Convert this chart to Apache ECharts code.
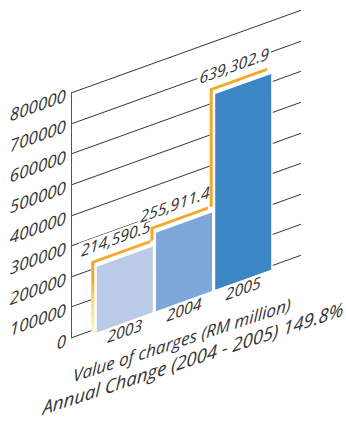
<!DOCTYPE html>
<html><head><meta charset="utf-8">
<script src="https://cdn.jsdelivr.net/npm/echarts@6/dist/echarts.min.js"></script>
<style>
html,body{margin:0;padding:0;background:#fff;overflow:hidden;}
#wrap{position:absolute;left:0;top:0;width:346px;height:421px;overflow:hidden;background:#fff;}
#chart{position:absolute;left:0;top:0;width:346px;height:560px;transform:skewY(-19.8deg);transform-origin:0 0;}
</style></head><body>
<div id="wrap"><div id="chart"></div></div>
<script>
// ---- data ----
const categories = ['2003', '2004', '2005'];
const values = [214590.5, 255911.4, 639302.9];
const valueLabels = ['214,590.5', '255,911.4', '639,302.9'];
const yMin = 0, yMax = 800000, yInterval = 100000;
const axisTitle = 'Value of charges (RM million)';
const changeTitle = 'Annual Change (2004 - 2005) 149.8%';
const barColors = ['#BACBE7', '#7EA6D9', '#3C86C6'];

// ---- style ----
const FONT = '"Open Sans", "Noto Sans", sans-serif';
const TEXT = '#333333';
const ORANGE = '#F6A82A';
const BAR_W = 56;
const OFFX = 4, OFFY = 6;

const chart = echarts.init(document.getElementById('chart'), null, {renderer: 'svg'});

function geom(params, api) {
  const i = params.dataIndex;
  const top = api.coord([i, api.value(1)]);
  const base = api.coord([i, 0]);
  const band = api.size([1, 0])[0];
  return {i, cx: top[0], top: top[1], base: base[1], left: top[0] - BAR_W / 2, right: top[0] + BAR_W / 2, gap: (band - BAR_W) / 2};
}

const option = {
  animation: false,
  backgroundColor: '#fff',
  grid: [
    {left: 71, top: 118.3, width: 230, height: 245},
    {left: 95.2, top: 122.3, width: 177.6, height: 245}
  ],
  xAxis: [
    {gridIndex: 0, type: 'category', data: categories, show: false},
    {gridIndex: 1, type: 'category', data: categories,
     axisLine: {show: false}, axisTick: {show: false},
     axisLabel: {margin: 0, fontFamily: FONT, fontStyle: 'italic', fontSize: 16, color: TEXT}}
  ],
  yAxis: [
    {gridIndex: 0, type: 'value', min: yMin, max: yMax, interval: yInterval,
     axisLine: {show: true, lineStyle: {color: '#555', width: 1}},
     axisTick: {show: false},
     splitLine: {show: true, lineStyle: {color: '#333', width: 1}},
     axisLabel: {margin: 5, fontFamily: FONT, fontStyle: 'italic', fontSize: 17, color: TEXT,
                 formatter: v => String(v)}},
    {gridIndex: 1, type: 'value', min: yMin, max: yMax, interval: yInterval, show: false}
  ],
  series: [
    {
      type: 'custom', xAxisIndex: 1, yAxisIndex: 1, z: 1,
      data: values.map((v, i) => [i, v]),
      renderItem: function (params, api) {
        const g = geom(params, api);
        const x0 = g.left - OFFX - 1.5;
        const x1 = g.right + g.gap;
        return {type: 'rect', shape: {x: x0, y: g.top - OFFY, width: x1 - x0, height: g.base - (g.top - OFFY) + 2},
                style: {fill: '#fff'}};
      }
    },
    {
      type: 'bar', xAxisIndex: 1, yAxisIndex: 1, z: 2,
      barWidth: BAR_W,
      data: values.map((v, i) => ({value: v, itemStyle: {color: barColors[i]}})),
      label: {
        show: true, position: 'top', distance: 14, offset: [-9, 0],
        formatter: p => valueLabels[p.dataIndex],
        fontFamily: FONT, fontStyle: 'italic', fontSize: 16, color: TEXT,
        backgroundColor: '#fff', padding: [0, 2, 0, 2]
      }
    },
    {
      type: 'custom', xAxisIndex: 1, yAxisIndex: 1, z: 3,
      data: values.map((v, i) => [i, v]),
      renderItem: function (params, api) {
        const g = geom(params, api);
        const xl = g.left - OFFX, xr = g.right - OFFX, y = g.top - OFFY;
        const children = [];
        if (g.i === 0) {
          const yb = g.base - 2;
          children.push({type: 'line', shape: {x1: xl, y1: yb, x2: xl, y2: y},
            style: {lineWidth: 3, stroke: {type: 'linear', x: 0, y: yb, x2: 0, y2: y, global: true,
              colorStops: [{offset: 0, color: '#FFF6C8'}, {offset: 0.45, color: '#FCD77A'}, {offset: 0.75, color: ORANGE}, {offset: 1, color: ORANGE}]}}});
          children.push({type: 'polyline', shape: {points: [[xl, y + 1.5], [xl, y], [xr, y]]},
            style: {stroke: ORANGE, lineWidth: 3, fill: null, lineJoin: 'miter', lineCap: 'square'}});
        } else {
          const py = api.coord([g.i - 1, values[g.i - 1]])[1] - OFFY;
          children.push({type: 'polyline', shape: {points: [[xl, py], [xl, y], [xr, y]]},
            style: {stroke: ORANGE, lineWidth: 3, fill: null, lineJoin: 'miter'}});
        }
        return {type: 'group', children};
      }
    }
  ],
  graphic: [
    {type: 'text', x: 182, y: 405, rotation: -0.03,
     style: {text: axisTitle, fontFamily: FONT, fontStyle: 'italic', fontSize: 17, fill: TEXT, align: 'center', verticalAlign: 'middle'}},
    {type: 'text', x: 193, y: 428, rotation: -0.03,
     style: {text: changeTitle, fontFamily: FONT, fontStyle: 'italic', fontSize: 18.5, fill: TEXT, align: 'center', verticalAlign: 'middle'}}
  ]
};
chart.setOption(option);
</script>
</body></html>
